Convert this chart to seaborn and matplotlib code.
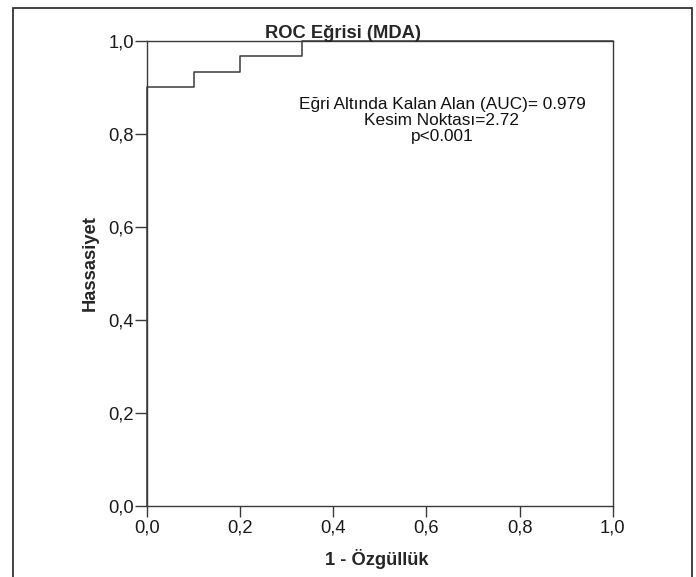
import matplotlib
matplotlib.use("Agg")
import matplotlib.pyplot as plt
import seaborn as sns
import pandas as pd
from matplotlib.patches import Rectangle

fpr = [0.0, 0.0, 0.1, 0.2, 0.333, 1.0]
tpr = [0.0, 0.9, 0.933, 0.967, 1.0, 1.0]
tick_vals = [0.0, 0.2, 0.4, 0.6, 0.8, 1.0]
tick_labels = ["0,0", "0,2", "0,4", "0,6", "0,8", "1,0"]
title = "ROC Eğrisi (MDA)"
xlabel = "1 - Özgüllük"
ylabel = "Hassasiyet"
note_lines = ["Eğri Altında Kalan Alan (AUC)= 0.979", "Kesim Noktası=2.72", "p<0.001"]

sns.set_style("white")
plt.rcParams["font.family"] = ["Liberation Sans", "DejaVu Sans"]

W, H = 696, 577
fs = 13.2
fig = plt.figure(figsize=(W/100, H/100), dpi=100)
x0, x1, y0, y1 = 147, 612.7, 505.7, 40.7
ax = fig.add_axes([x0/W, 1-y0/H, (x1-x0)/W, (y0-y1)/H])

df = pd.DataFrame({"fpr": fpr, "tpr": tpr})
sns.lineplot(data=df, x="fpr", y="tpr", sort=False, estimator=None,
             drawstyle="steps-post", color="#3a3a3a", linewidth=1.1, ax=ax, clip_on=False)

ax.set_xlim(0, 1)
ax.set_ylim(0, 1)
ax.set_xticks(tick_vals)
ax.set_xticklabels(tick_labels)
ax.set_yticks(tick_vals)
ax.set_yticklabels(tick_labels)
ax.tick_params(axis="x", direction="out", length=7.9, width=1, color="#3a3a3a",
               labelsize=fs, labelcolor="#1a1a1a", pad=2.2, bottom=True)
ax.tick_params(axis="y", direction="out", length=8.6, width=1, color="#3a3a3a",
               labelsize=fs, labelcolor="#1a1a1a", pad=0.6, left=True)
for s in ax.spines.values():
    s.set_color("#3a3a3a")
    s.set_linewidth(1.0)
    s.set_visible(True)

ax.set_xlabel(xlabel, fontsize=fs, fontweight="bold")
ax.xaxis.label.set_va("baseline")
ax.xaxis.set_label_coords((376.7-x0)/(x1-x0), (y0-565)/(y0-y1))
ax.set_ylabel(ylabel, fontsize=fs, fontweight="bold")
ax.yaxis.label.set_va("center")
ax.yaxis.set_label_coords((90-x0)/(x1-x0), (y0-263)/(y0-y1))

fig.text(343.4/W, 1-38.5/H, title, ha="center", va="baseline", fontsize=fs, fontweight="bold")
fig.text(442/W, 1-120.5/H, "\n".join(note_lines), ha="center", va="center",
         multialignment="center", fontsize=12.4, color="#111111", linespacing=1.05)

fig.add_artist(Rectangle((13/W, -0.01), (692-13)/W, (H-8)/H + 0.01,
                         transform=fig.transFigure, fill=False, edgecolor="#222222",
                         linewidth=1.2, clip_on=False))

fig.savefig("out.png", dpi=100)
